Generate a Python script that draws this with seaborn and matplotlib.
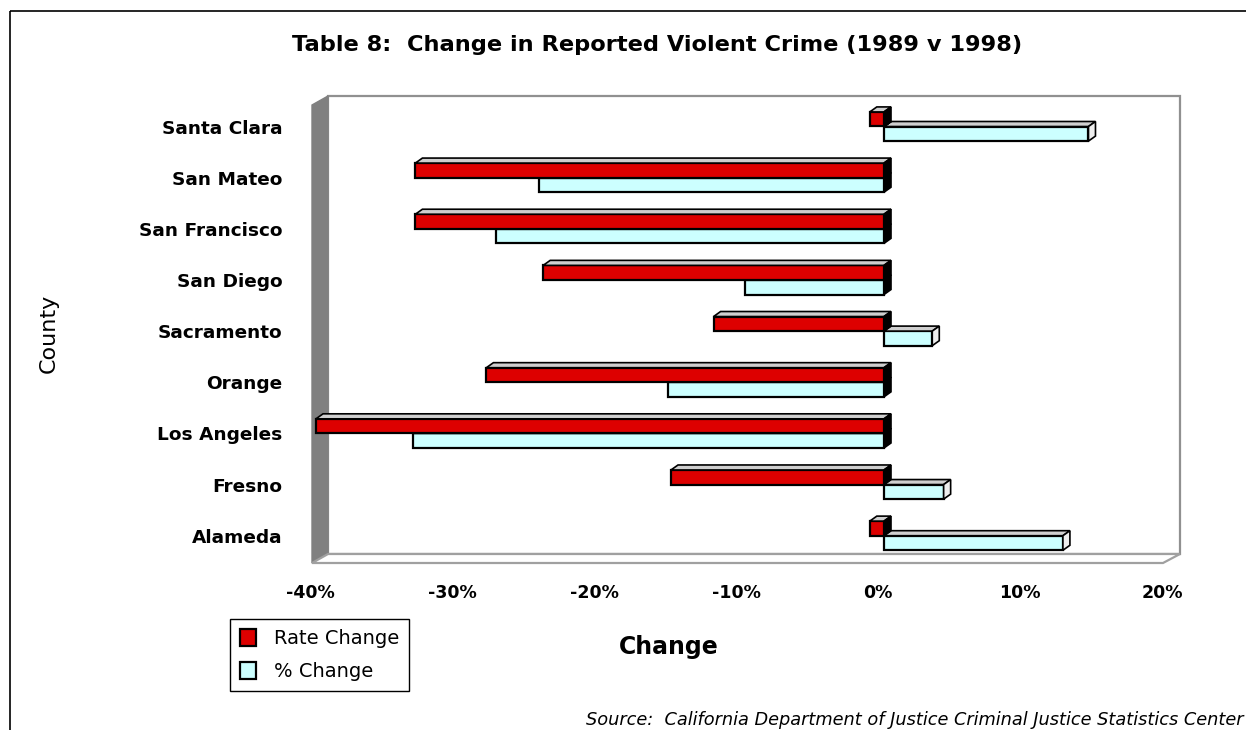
import matplotlib
matplotlib.use("Agg")
import matplotlib.pyplot as plt
import seaborn as sns
import pandas as pd
from matplotlib.patches import Polygon, Rectangle
from matplotlib.transforms import Affine2D, ScaledTranslation

# ---- data ----
counties = ["Santa Clara", "San Mateo", "San Francisco", "San Diego", "Sacramento",
            "Orange", "Los Angeles", "Fresno", "Alameda"]
rate_change = [-1.0, -33.0, -33.0, -24.0, -12.0, -28.0, -40.0, -15.0, -1.0]
pct_change = [14.4, -24.3, -27.3, -9.8, 3.4, -15.2, -33.2, 4.2, 12.6]
series = ["Rate Change", "% Change"]
x_ticks = [-40, -30, -20, -10, 0, 10, 20]
x_tick_labels = ["-40%", "-30%", "-20%", "-10%", "0%", "10%", "20%"]

RED = "#DD0000"
CYAN = "#CCFFFF"

df = pd.DataFrame({
    "County": counties * 2,
    "Value": rate_change + pct_change,
    "Series": [series[0]] * len(counties) + [series[1]] * len(counties),
})

sns.set_theme(style="white")
plt.rcParams["font.family"] = ["DejaVu Sans"]
plt.rcParams["text.color"] = "black"
plt.rcParams["xtick.color"] = "black"
plt.rcParams["ytick.color"] = "black"
plt.rcParams["axes.labelcolor"] = "black"

W, H = 1246, 730
fig = plt.figure(figsize=(W / 100, H / 100), dpi=100)
fig.patch.set_facecolor("white")

# pixel transform (image coords, origin top-left)
PX = Affine2D().scale(1 / W, -1 / H).translate(0, 1) + fig.transFigure

ax_l, ax_r, ax_t, ax_b = 316, 1168, 97, 563
ax = fig.add_axes([ax_l / W, 1 - ax_b / H, (ax_r - ax_l) / W, (ax_b - ax_t) / H])
ax.patch.set_visible(False)

sns.barplot(data=df, y="County", x="Value", hue="Series", order=counties,
            hue_order=series, palette=[RED, CYAN], orient="h", width=0.57,
            saturation=1, edgecolor="black", linewidth=1.6, ax=ax)

row_px = 51.15
ax.set_xlim(-40, 20)
ax.set_ylim((ax_b - 126.5) / row_px, (ax_t - 126.5) / row_px)

# 3D walls
wall = Polygon([(312, 105), (328, 96), (328, 554), (312, 563)], closed=True,
               facecolor="#808080", edgecolor="#808080", lw=1, transform=PX,
               clip_on=False, zorder=0.5)
back = Rectangle((328, 96), 1180 - 328, 554 - 96, facecolor="white",
                 edgecolor="#909090", lw=1.6, transform=PX, clip_on=False, zorder=0.4)
floor = Polygon([(312, 563), (1163, 563), (1180, 554), (328, 554)], closed=True,
                facecolor="white", edgecolor="#a0a0a0", lw=1.6, transform=PX,
                clip_on=False, zorder=0.6)
bars = list(ax.patches)
for p in (back, wall, floor):
    ax.add_patch(p)

# 3D bar faces
px_per_x = (ax_r - ax_l) / 60.0
dx = 7 / px_per_x
dy = 5 / row_px
for b in bars:
    fc = b.get_facecolor()
    is_red = fc[1] < 0.5
    z = 4 if is_red else 3
    b.set_zorder(z)
    x0 = b.get_x()
    x1 = x0 + b.get_width()
    xl, xr = min(x0, x1), max(x0, x1)
    y0 = b.get_y()
    y1 = y0 + b.get_height()
    yt, yb = min(y0, y1), max(y0, y1)
    top = Polygon([(xl, yt), (xr, yt), (xr + dx, yt - dy), (xl + dx, yt - dy)],
                  closed=True, facecolor="#cfcfcf", edgecolor="black", lw=1.2,
                  clip_on=False, zorder=z)
    side_color = "black" if (is_red or b.get_width() < 0) else "#eeeeee"
    side = Polygon([(xr, yt), (xr + dx, yt - dy), (xr + dx, yb - dy), (xr, yb)],
                   closed=True, facecolor=side_color, edgecolor="black", lw=1.2,
                   clip_on=False, zorder=z)
    ax.add_patch(top)
    ax.add_patch(side)
    b.set_clip_on(False)

# axes styling
for s in ax.spines.values():
    s.set_visible(False)
ax.set_xlabel("")
ax.set_ylabel("")
ax.set_xticks(x_ticks)
ax.set_xticklabels(x_tick_labels, fontsize=12.5, fontweight="bold", color="black")
ax.tick_params(axis="x", length=0, pad=15)
ax.tick_params(axis="y", length=0, pad=24)
for lab in ax.get_yticklabels():
    lab.set_fontsize(13.3)
    lab.set_fontweight("bold")
    lab.set_color("black")
shift = ScaledTranslation(-6 / 100, 0, fig.dpi_scale_trans)
for lab in ax.get_xticklabels():
    lab.set_transform(lab.get_transform() + shift)

# legend
handles, labels = ax.get_legend_handles_labels()
if ax.get_legend() is not None:
    ax.get_legend().remove()
leg = fig.legend(handles, labels, loc="upper left",
                 bbox_to_anchor=(230 / W, 1 - 619 / H), bbox_transform=fig.transFigure,
                 frameon=True, fancybox=False, framealpha=1, fontsize=14,
                 borderpad=0.5, handlelength=0.85, handleheight=1.0,
                 handletextpad=0.9, labelspacing=0.72, borderaxespad=0)
leg.get_frame().set_edgecolor("black")
leg.get_frame().set_linewidth(1.0)
for t in leg.get_texts():
    t.set_color("black")

# texts
fig.text(657 / W, 1 - 45 / H, "Table 8:  Change in Reported Violent Crime (1989 v 1998)",
         ha="center", va="center", fontsize=16.2, fontweight="bold", color="black")
fig.text(669 / W, 1 - 647 / H, "Change", ha="center", va="center",
         fontsize=17, fontweight="bold", color="black")
fig.text(49 / W, 1 - 333 / H, "County", ha="center", va="center",
         rotation=90, fontsize=16, color="black")
fig.text(1243 / W, 1 - 720 / H,
         "Source:  California Department of Justice Criminal Justice Statistics Center",
         ha="right", va="center", fontsize=12.8, style="italic", color="black")

# outer border (runs off the right and bottom edges)
fig.add_artist(Rectangle((10, 11), 1400, 900, fill=False, edgecolor="black",
                         lw=1.2, transform=PX, clip_on=False))

fig.savefig("out.png", dpi=100, facecolor="white")
